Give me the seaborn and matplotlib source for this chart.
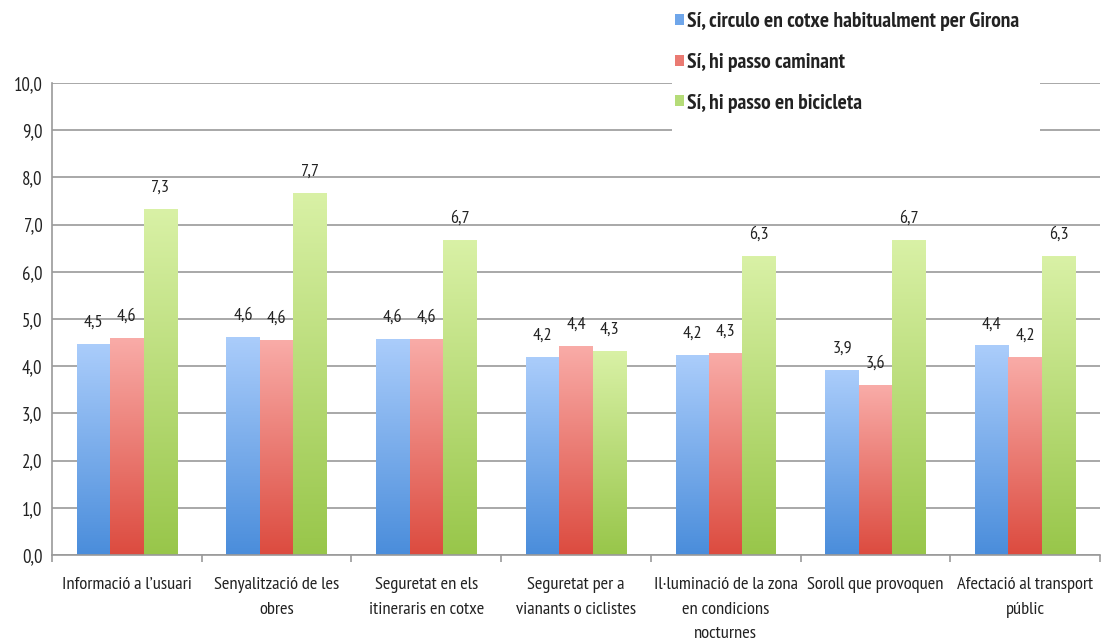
import numpy as np
import pandas as pd
import matplotlib
matplotlib.use('Agg')
import matplotlib.pyplot as plt
import seaborn as sns
from matplotlib import font_manager
from matplotlib.colors import LinearSegmentedColormap
from matplotlib.patches import Patch, Rectangle

# Data
categories = ["Informació a l\u2019usuari", "Senyalització de les\nobres",
              "Seguretat en els\nitineraris en cotxe", "Seguretat per a\nvianants o ciclistes",
              "Il\u00b7luminació de la zona\nen condicions\nnocturnes", "Soroll que provoquen",
              "Afectació al transport\npúblic"]
series = ["Sí, circulo en cotxe habitualment per Girona",
          "Sí, hi passo caminant",
          "Sí, hi passo en bicicleta"]
cotxe = [4.48, 4.62, 4.58, 4.20, 4.23, 3.93, 4.44]
caminant = [4.60, 4.56, 4.58, 4.43, 4.28, 3.60, 4.20]
bicicleta = [7.33, 7.67, 6.67, 4.33, 6.33, 6.67, 6.33]

# gradient colours (top, bottom) per series, plus legend swatch
grad = {
    series[0]: ('#abcdfb', '#4a8ddb'),
    series[1]: ('#f9aca8', '#dc4b3f'),
    series[2]: ('#d9f1a6', '#98c64a'),
}
swatch = ['#6fa6ea', '#ea7a72', '#b5dc78']

df = pd.DataFrame({
    'cat': categories * 3,
    'serie': [s for s in series for _ in categories],
    'val': cotxe + caminant + bicicleta,
})

# pick a narrow font if one is installed
available = {f.name for f in font_manager.fontManager.ttflist}
narrow = [n for n in ['PT Sans Narrow', 'Open Sans Condensed', 'Roboto Condensed',
                      'Archivo Narrow', 'Liberation Sans Narrow', 'Carlito']
          if n in available]
font = narrow[0] if narrow else 'Liberation Sans'

sns.set_style('white')
plt.rcParams['font.family'] = [font, 'DejaVu Sans']
txt_color = '#222222'

fig = plt.figure(figsize=(11.01, 6.44), dpi=100)
ax = fig.add_axes([52 / 1101, 89 / 644, 1048 / 1101, 472 / 644])

sns.barplot(data=df, x='cat', y='val', hue='serie', hue_order=series,
            order=categories, width=0.67, ax=ax, legend=False)

# replace flat fills with vertical gradients, add value labels
for cont, s in zip(ax.containers, series):
    cmap = LinearSegmentedColormap.from_list(s, [grad[s][1], grad[s][0]])
    for bar in cont:
        x0, w, h = bar.get_x(), bar.get_width(), bar.get_height()
        bar.set_facecolor('none')
        bar.set_edgecolor('none')
        img = ax.imshow(np.linspace(0, 1, 256).reshape(-1, 1), cmap=cmap,
                        extent=[x0, x0 + w, 0, h], origin='lower',
                        aspect='auto', zorder=2)
        img.set_clip_path(bar)
        ax.text(x0 + w / 2, h + 0.28, f"{h:.1f}".replace('.', ','),
                ha='center', va='bottom', fontsize=13, color=txt_color)
ax.set_aspect('auto')
ax.set_ylim(0, 10)
ax.set_xlim(-0.5, len(categories) - 0.5)

ax.set_yticks(np.arange(0, 11, 1))
ax.set_yticklabels([f"{v:.1f}".replace('.', ',') for v in range(0, 11)],
                   fontsize=13.5, color=txt_color)
ax.yaxis.grid(True, color='#9a9a9a', linewidth=1.2)
ax.set_axisbelow(True)
ax.tick_params(axis='y', length=0, pad=7)

ax.set_xticks(range(len(categories)))
ax.set_xticklabels(categories, fontsize=13.3, color=txt_color, linespacing=1.7,
                   va='top')
ax.tick_params(axis='x', which='major', length=0, pad=16)
ax.set_xticks(np.arange(-0.5, len(categories), 1), minor=True)
ax.tick_params(axis='x', which='minor', length=5, color='#9a9a9a', width=1.2,
               direction='out', bottom=True)
ax.set_xlabel('')
ax.set_ylabel('')

for sp in ['top', 'right']:
    ax.spines[sp].set_visible(False)
for sp in ['left', 'bottom']:
    ax.spines[sp].set_color('#9a9a9a')
    ax.spines[sp].set_linewidth(1.2)

# white block behind the legend, hiding the top gridlines
fig.add_artist(Rectangle((672 / 1101, 1 - 135 / 644), 368 / 1101, 135 / 644,
                         transform=fig.transFigure, facecolor='white',
                         edgecolor='none', zorder=3))

handles = [Patch(facecolor=c, edgecolor='none') for c in swatch]
leg = fig.legend(handles, series, loc='upper left',
                 bbox_to_anchor=(669 / 1101, 1 - 6 / 644),
                 frameon=False, prop={'size': 15.5, 'weight': 'bold'},
                 handlelength=0.4, handleheight=0.4,
                 handletextpad=0.15, labelspacing=1.0, borderpad=0.3,
                 borderaxespad=0)
leg.set_zorder(4)
for t in leg.get_texts():
    t.set_color(txt_color)

fig.savefig('out.png', dpi=100)
